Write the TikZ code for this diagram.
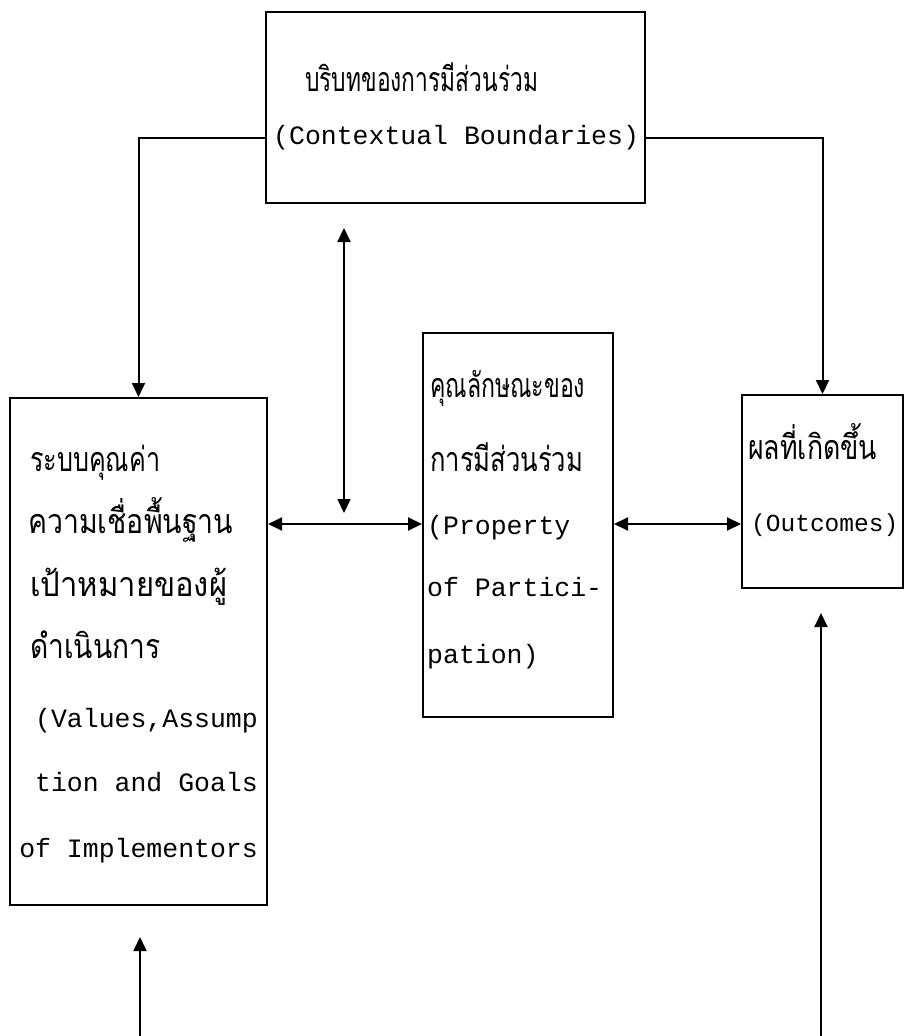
\documentclass[tikz,border=0pt]{standalone}
\usepackage{fontspec}
\usetikzlibrary{arrows.meta}
\newfontfamily\thaifont[Script=Thai,FakeStretch=0.7]{Loma}
\newfontfamily\engfont{Liberation Mono}
\newcommand{\thw}[2]{\resizebox{#1}{\height}{#2}}
\begin{document}
\begin{tikzpicture}[x=1pt,y=-1pt,
  box/.style={draw,line width=2pt,inner sep=0pt},
  th/.style={inner sep=0pt,anchor=base west,font=\thaifont\fontsize{34}{34}\selectfont},
  en/.style={inner sep=0pt,anchor=base west,font=\engfont\fontsize{26.5}{26.5}\selectfont},
  enr/.style={en,anchor=base east},
  tip/.style={},
  arr/.style={line width=2pt,-{Triangle[length=14pt,width=13pt]}},
  darr/.style={line width=2pt,{Triangle[length=14pt,width=13pt]}-{Triangle[length=14pt,width=13pt]}}]
\useasboundingbox[fill=white] (0,0) rectangle (906,1036);
% boxes
\node[box,minimum width=379pt,minimum height=191pt] (top) at (455.5,107.5) {};
\node[box,minimum width=257pt,minimum height=507pt] (left) at (138.5,651.5) {};
\node[box,minimum width=190pt,minimum height=384pt] (mid) at (518,525) {};
\node[box,minimum width=161pt,minimum height=193pt] (out) at (822.5,491.5) {};
% texts
\node[th] (t1) at (305,91) {\thw{233pt}{บริบทของการมีส่วนร่วม}};
\node[en] (t2) at (273,144) {(Contextual Boundaries)};
\node[th] (l1) at (30,471) {\thw{130pt}{ระบบคุณค่า}};
\node[th] (l2) at (28,533) {\thw{205pt}{ความเชื่อพื้นฐาน}};
\node[th] (l3) at (30,596) {\thw{197pt}{เป้าหมายของผู้}};
\node[th] (l4) at (30,658) {\thw{130pt}{ดำเนินการ}};
\node[enr] (l5) at (258,727) {(Values,Assump};
\node[enr] (l6) at (258,791) {tion and Goals};
\node[enr] (l7) at (258,857) {of Implementors};
\node[th] (m1) at (430,397) {\thw{155pt}{คุณลักษณะของ}};
\node[th] (m2) at (430,471) {\thw{153pt}{การมีส่วนร่วม}};
\node[en] (m3) at (427,534) {(Property};
\node[en] (m4) at (427,596) {of Partici-};
\node[en] (m5) at (427,663) {pation)};
\node[th] (o1) at (748,459) {\thw{129pt}{ผลที่เกิดขึ้น}};
\node[en,font=\engfont\fontsize{24.5}{24.5}\selectfont] (o2) at (751,531) {(Outcomes)};
% helper coordinates
\coordinate (ctxrow) at (0,138);
\coordinate (row) at (0,524);
\coordinate (vtop) at (344,228);
\coordinate (vbot) at (344,513);
\coordinate (lbot) at (140,1036);
\coordinate (ltip) at (140,937);
\coordinate (rbot) at (821,1036);
\coordinate (rtip) at (821,613);
% connectors
\draw[arr] (top.west |- ctxrow) -| (left.north);
\draw[arr] (top.east |- ctxrow) -| (out.north);
\draw[darr] (vtop) -- (vbot);
\draw[darr] (left.east |- row) -- (mid.west |- row);
\draw[darr] (mid.east |- row) -- (out.west |- row);
\draw[arr] (lbot) -- (ltip);
\draw[arr] (rbot) -- (rtip);
\end{tikzpicture}
\end{document}
